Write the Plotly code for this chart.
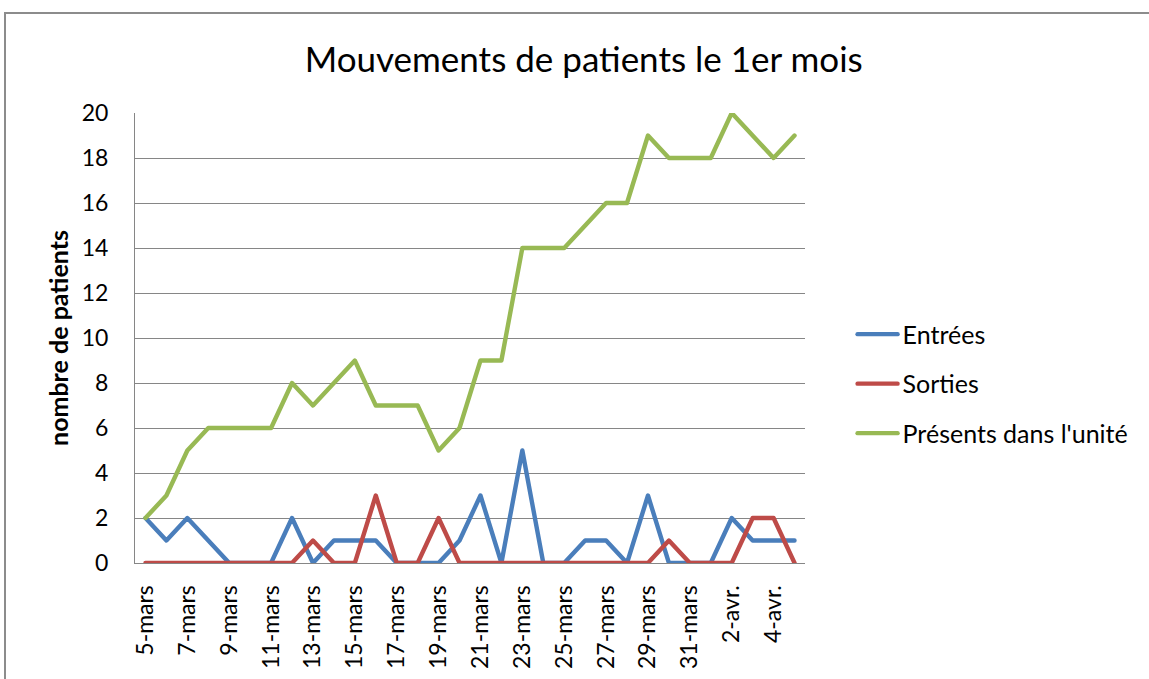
import plotly.graph_objects as go

dates = ["5-mars", "6-mars", "7-mars", "8-mars", "9-mars", "10-mars", "11-mars", "12-mars",
         "13-mars", "14-mars", "15-mars", "16-mars", "17-mars", "18-mars", "19-mars", "20-mars",
         "21-mars", "22-mars", "23-mars", "24-mars", "25-mars", "26-mars", "27-mars", "28-mars",
         "29-mars", "30-mars", "31-mars", "1-avr.", "2-avr.", "3-avr.", "4-avr.", "5-avr."]
entrees = [2, 1, 2, 1, 0, 0, 0, 2, 0, 1, 1, 1, 0, 0, 0, 1,
           3, 0, 5, 0, 0, 1, 1, 0, 3, 0, 0, 0, 2, 1, 1, 1]
sorties = [0, 0, 0, 0, 0, 0, 0, 0, 1, 0, 0, 3, 0, 0, 2, 0,
           0, 0, 0, 0, 0, 0, 0, 0, 0, 1, 0, 0, 0, 2, 2, 0]
presents = [2, 3, 5, 6, 6, 6, 6, 8, 7, 8, 9, 7, 7, 7, 5, 6,
            9, 9, 14, 14, 14, 15, 16, 16, 19, 18, 18, 18, 20, 19, 18, 19]
series_names = ["Entrées", "Sorties", "Présents dans l'unité"]
tick_dates = dates[::2]
y_ticks = list(range(0, 21, 2))

colors = ["#4A7EBB", "#BE4B48", "#98B954"]
FONT = "Lato"

fig = go.Figure()
for name, vals, col in zip(series_names, [entrees, sorties, presents], colors):
    fig.add_trace(go.Scatter(x=dates, y=vals, mode="lines", name=name,
                             legendgroup=name,
                             line=dict(color=col, width=4.4)))

grid = "#868686"
fig.update_layout(
    width=1149, height=679,
    margin=dict(l=135, r=344, t=113, b=116, autoexpand=False),
    paper_bgcolor="white", plot_bgcolor="white",
    font=dict(family=FONT, size=23, color="black"),
    title=dict(text="Mouvements de patients le 1er mois", font=dict(family=FONT, size=35, color="black"),
               x=0.508, xref="container", xanchor="center",
               y=1 - 60 / 679, yref="container", yanchor="middle"),
    xaxis=dict(type="category", categoryorder="array", categoryarray=dates,
               range=[-0.5, len(dates) - 0.5],
               tickmode="array", tickvals=tick_dates, ticktext=tick_dates,
               tickangle=-90, showgrid=False, showline=True, linecolor=grid, linewidth=1,
               ticks="", ticklabelstandoff=12, tickfont=dict(size=23),
               automargin=False, zeroline=False),
    yaxis=dict(range=[0, 20], tickmode="array", tickvals=y_ticks,
               showgrid=True, gridcolor=grid, gridwidth=1,
               showline=True, linecolor=grid, linewidth=1,
               ticks="", ticklabelstandoff=21, tickfont=dict(size=23),
               title=dict(text="<b>nombre de patients</b>", font=dict(size=25), standoff=5),
               automargin=False, zeroline=False),
    legend=dict(x=1.071, xanchor="left", y=0.398, yanchor="middle",
                font=dict(size=25), tracegroupgap=14, bgcolor="rgba(0,0,0,0)",
                itemwidth=40),
    showlegend=True,
)

# outer chart border (Excel chart area frame)
fig.add_shape(type="rect", xref="paper", yref="paper",
              x0=(5 - 135) / 670, x1=1.7, y0=-0.4, y1=(563 - 13) / 450,
              line=dict(color="#8C8C8C", width=2), fillcolor="rgba(0,0,0,0)", layer="below")

fig.write_html("out.html", config={"displayModeBar": False},
               post_script=("document.body.style.margin='0';document.body.style.overflow='hidden';"
                            "document.querySelectorAll('path.js-line').forEach(function(p){"
                            "p.style.strokeLinejoin='round';p.style.strokeLinecap='round';});"))
